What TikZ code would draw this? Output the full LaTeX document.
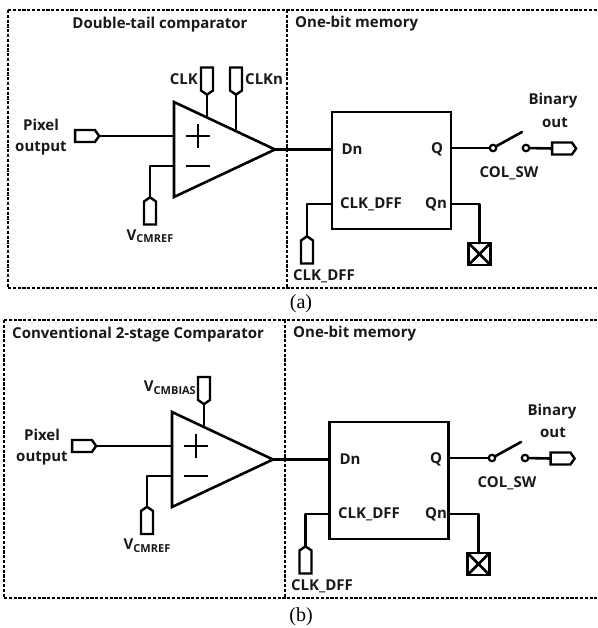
\documentclass[tikz,border=0pt]{standalone}
\usepackage{fontspec}
\setmainfont{Open Sans}
\newfontfamily\capfont{Liberation Serif}
\usetikzlibrary{positioning,calc,shapes.geometric,shapes.symbols}

\newcommand{\vname}[1]{V\raisebox{-2.5pt}{\fontsize{11}{11}\selectfont #1}}

\tikzset{
  wire/.style={line width=2.6pt, line cap=round, line join=round},
  frame/.style={line width=1.7pt, dash pattern=on 3.2pt off 1.6pt},
  opamp/.style={draw, line width=2.6pt, isosceles triangle, isosceles triangle apex angle=50.4,
    isosceles triangle stretches, minimum width=95pt, minimum height=101pt, inner sep=0pt, outer sep=0pt, anchor=apex},
  dff/.style={draw, line width=2.6pt, minimum width=119pt, minimum height=117pt, inner sep=0pt, outer sep=0pt},
  porth/.style={draw, line width=2.4pt, signal, signal to=east, signal pointer angle=110,
    minimum width=24pt, minimum height=12pt, inner sep=0pt, outer sep=0pt},
  portv/.style={draw, line width=2.4pt, signal, inner sep=0pt, outer sep=0pt, signal pointer angle=110,
    minimum width=12pt, minimum height=23pt},
  txt/.style={font=\fontsize{15}{17}\selectfont\bfseries, inner sep=0pt, text=black!90},
  subfig/.style={font=\fontsize{20}{22}\selectfont\capfont, inner sep=0pt},
  sign/.style={line width=2.6pt},
  pole/.style={draw, circle, line width=2.2pt, minimum size=6.5pt, inner sep=0pt, outer sep=0pt},
  nc/.style={draw, line width=2.6pt, minimum size=22pt, inner sep=0pt, outer sep=0pt},
  node distance=3pt
}

\begin{document}
\begin{tikzpicture}[x=1pt,y=-1pt]
    \useasboundingbox (0,0) rectangle (597,628);

    % Panel (a): frame
    \draw[frame] (8,10) -- (597,10);
    \draw[frame] (8,288) -- (597,288);
    \draw[frame] (8,10) -- (8,288);
    \draw[frame] (287,10) -- (287,288);
    \node[txt] (titlea) at (160,25) {Double-tail comparator};
    \node[txt, anchor=west] (mema) at (295,24) {One-bit memory};
    \node[subfig] (capa) at (301,304) {(a)};

    % Define nodes
    \node[opamp] (ampa) at (275,149.5) {};
    \node[porth] (pixa) at (85,136) {};
    \node[txt] (pixla) at (41,125) {Pixel};
    \node[txt] (pixoa) at (41,148) {output};
    \node[portv, signal to=south] (clka) at (207,79) {};
    \node[txt, left=of clka] (clkla) {CLK};
    \node[portv, signal to=south] (clkna) at (236,79) {};
    \node[txt, right=of clkna] (clknla) {CLKn};
    \node[portv, signal to=north] (refa) at (150,213) {};
    \node[txt, below=5pt of refa] (refla) {\vname{CMREF}};
    \node[dff] (ffa) at (391.5,170.5) {};
    \node[txt] (dna) at (352,149) {Dn};
    \node[txt] (qa) at (437,149) {Q};
    \node[txt] (ckina) at (371,204) {CLK\_DFF};
    \node[txt] (qna) at (436,204) {Qn};
    \node[pole] (swla) at (493,148) {};
    \node[pole] (swra) at (526,148) {};
    \node[porth] (outa) at (562,148.5) {};
    \node[txt] (binla) at (553,101) {Binary};
    \node[txt] (outla) at (555,123) {out};
    \node[txt] (swa) at (509,173) {COL\_SW};
    \node[nc] (terma) at (479.5,254) {};
    \node[portv, signal to=north] (cka) at (307,252) {};
    \node[txt] (ckla) at (324,276) {CLK\_DFF};
    \coordinate (plusa) at (198,136);
    \coordinate (minusa) at (198,166);
    \coordinate (clkenda) at (207,117);
    \coordinate (clknenda) at (236,131);
    \coordinate (arma) at (522,132);

    % Connect the nodes
    \draw[wire] (pixa.east) -- (pixa.east -| ampa.lower side);
    \draw[wire] (refa.north) |- (ampa.lower side |- minusa);
    \draw[wire] (clka.south) -- (clkenda);
    \draw[wire] (clkna.south) -- (clknenda);
    \draw[wire] (ampa.apex) -- (ampa.apex -| ffa.west);
    \draw[wire] (ffa.east |- swla) -- (swla);
    \draw[wire] (swla) -- (arma);
    \draw[wire] (swra) -- (outa.west);
    \draw[wire] (ffa.east |- qna) -| (terma.north);
    \draw[wire] (cka.north) |- (ffa.west |- ckina);
    \draw[sign] ($(plusa)+(-12,0)$) -- ($(plusa)+(12,0)$);
    \draw[sign] ($(plusa)+(0,-12)$) -- ($(plusa)+(0,12)$);
    \draw[sign] ($(minusa)+(-12,0)$) -- ($(minusa)+(12,0)$);
    \draw[wire] (terma.north west) -- (terma.south east);
    \draw[wire] (terma.north east) -- (terma.south west);

    % Panel (b): frame
    \draw[frame] (4,320) -- (597,320);
    \draw[frame] (4,598) -- (597,598);
    \draw[frame] (4,320) -- (4,598);
    \draw[frame] (285,320) -- (285,598);
    \node[txt, anchor=west] (titleb) at (12,335) {Conventional 2-stage Comparator};
    \node[txt, anchor=west] (memb) at (293,334) {One-bit memory};
    \node[subfig] (capb) at (301,617) {(b)};

    % Define nodes
    \node[opamp] (ampb) at (273,459.5) {};
    \node[porth] (pixb) at (82,446) {};
    \node[txt] (pixlb) at (42,435) {Pixel};
    \node[txt] (pixob) at (42,458) {output};
    \node[portv, signal to=south] (bias) at (204,388.5) {};
    \node[txt, left=2pt of bias, yshift=1pt] (biasl) {\vname{CMBIAS}};
    \node[portv, signal to=north] (refb) at (147,522.5) {};
    \node[txt, below=5pt of refb] (reflb) {\vname{CMREF}};
    \node[dff] (ffb) at (389,480.5) {};
    \node[txt] (dnb) at (350,459) {Dn};
    \node[txt] (qb) at (436,459) {Q};
    \node[txt] (ckinb) at (369,514) {CLK\_DFF};
    \node[txt] (qnb) at (436,514) {Qn};
    \node[pole] (swlb) at (492,458) {};
    \node[pole] (swrb) at (525,458) {};
    \node[porth] (outb) at (560.5,458.5) {};
    \node[txt] (binlb) at (552,412) {Binary};
    \node[txt] (outlb) at (553,433) {out};
    \node[txt] (swb) at (507,483) {COL\_SW};
    \node[nc] (termb) at (478.5,564) {};
    \node[portv, signal to=north] (ckb) at (305.5,562) {};
    \node[txt] (cklb) at (322,586) {CLK\_DFF};
    \coordinate (plusb) at (196,446);
    \coordinate (minusb) at (196,476);
    \coordinate (biasend) at (204,427);
    \coordinate (armb) at (521,442);

    % Connect the nodes
    \draw[wire] (pixb.east) -- (pixb.east -| ampb.lower side);
    \draw[wire] (refb.north) |- (ampb.lower side |- minusb);
    \draw[wire] (bias.south) -- (biasend);
    \draw[wire] (ampb.apex) -- (ampb.apex -| ffb.west);
    \draw[wire] (ffb.east |- swlb) -- (swlb);
    \draw[wire] (swlb) -- (armb);
    \draw[wire] (swrb) -- (outb.west);
    \draw[wire] (ffb.east |- qnb) -| (termb.north);
    \draw[wire] (ckb.north) |- (ffb.west |- ckinb);
    \draw[sign] ($(plusb)+(-12,0)$) -- ($(plusb)+(12,0)$);
    \draw[sign] ($(plusb)+(0,-12)$) -- ($(plusb)+(0,12)$);
    \draw[sign] ($(minusb)+(-12,0)$) -- ($(minusb)+(12,0)$);
    \draw[wire] (termb.north west) -- (termb.south east);
    \draw[wire] (termb.north east) -- (termb.south west);
\end{tikzpicture}
\end{document}
